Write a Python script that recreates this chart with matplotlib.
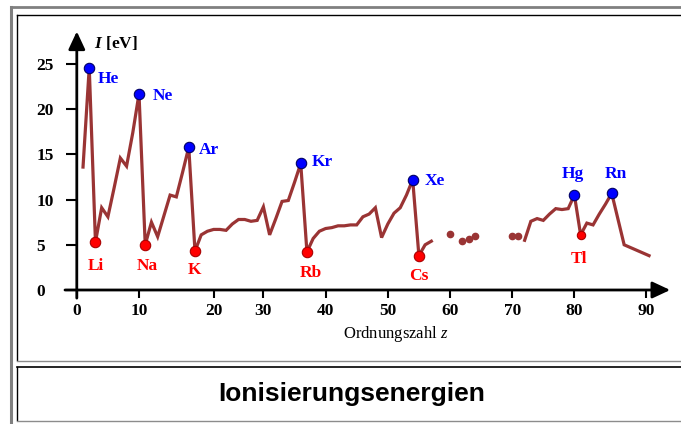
import matplotlib
matplotlib.use("Agg")
import matplotlib.pyplot as plt
from matplotlib.lines import Line2D

plt.rcParams["font.family"] = ["Liberation Serif", "DejaVu Serif"]
plt.rcParams["mathtext.fontset"] = "custom"
plt.rcParams["mathtext.rm"] = "Liberation Serif"
plt.rcParams["mathtext.it"] = "Liberation Serif:italic"
plt.rcParams["mathtext.bf"] = "Liberation Serif:bold"
plt.rcParams["mathtext.bfit"] = "Liberation Serif:italic:bold"

# first ionisation energies
z_main = list(range(1, 58))
ie_main = [13.6, 24.6, 5.3, 9.1, 8.1, 11.3, 14.6, 13.7, 17.4, 21.7,
           5.0, 7.5, 5.9, 8.2, 10.5, 10.3, 13.0, 15.8, 4.3, 6.1,
           6.5, 6.7, 6.7, 6.6, 7.3, 7.8, 7.8, 7.6, 7.7, 9.2,
           6.1, 7.9, 9.8, 9.9, 11.9, 14.0, 4.2, 5.7, 6.5, 6.8,
           6.9, 7.1, 7.1, 7.2, 7.2, 8.1, 8.4, 9.1, 5.8, 7.3,
           8.5, 9.1, 10.5, 12.2, 3.8, 5.0, 5.4]

z_dots = [60, 62, 63, 64, 70, 71]
ie_dots = [6.2, 5.4, 5.6, 6.0, 6.0, 6.0]

z_tail = [72, 73, 74, 75, 76, 77, 78, 79, 80, 81, 82, 83, 84, 85, 86, 88, 92]
ie_tail = [5.5, 7.6, 7.9, 7.7, 8.4, 9.0, 8.9, 9.0, 10.5, 6.1,
           7.4, 7.2, 8.4, 9.5, 10.7, 5.0, 3.8]

noble = ["He", "Ne", "Ar", "Kr", "Xe", "Hg", "Rn"]
noble_z = [2, 10, 18, 36, 54, 80, 86]
alkali = ["Li", "Na", "K", "Rb", "Cs", "Tl"]
alkali_z = [3, 11, 19, 37, 55, 81]

xtick_pos = [0, 10, 22, 30, 40, 50, 60, 70, 80, 91.5]
xtick_lab = ["0", "10", "20", "30", "40", "50", "60", "70", "80", "90"]
ytick_pos = [0, 5, 10, 15, 20, 25]

# label offsets in pixels (dx, dy, ha)
noble_off = {"He": (8, -11, "left"), "Ne": (14, -2, "left"), "Ar": (10, -3, "left"),
             "Kr": (11, 1, "left"), "Xe": (12, -1, "left"), "Hg": (-2, 21, "center"),
             "Rn": (4, 19, "center")}
alkali_off = {"Li": (0, -24), "Na": (2, -21), "K": (-1, -19), "Rb": (4, -21),
              "Cs": (0, -20), "Tl": (-2, -24)}

LINE = "#9a3434"
W, H = 681, 424


def lookup(z):
    for zs, vs in ((z_main, ie_main), (z_tail, ie_tail)):
        if z in zs:
            return vs[zs.index(z)]


def hline(fig, x0, x1, y, color, lw):
    fig.add_artist(Line2D([x0 / W, x1 / W], [1 - y / H, 1 - y / H],
                          transform=fig.transFigure, color=color, lw=lw))


def vline(fig, x, y0, y1, color, lw):
    fig.add_artist(Line2D([x / W, x / W], [1 - y0 / H, 1 - y1 / H],
                          transform=fig.transFigure, color=color, lw=lw))


def main():
    fig = plt.figure(figsize=(W / 100, H / 100), dpi=100)

    # frames
    vline(fig, 10.5, 7, H, "#808080", 2.2)
    hline(fig, 10.5, W, 7, "#808080", 2.0)
    hline(fig, 17, W, 14.5, "black", 1.0)
    vline(fig, 17, 14.5, 360, "black", 1.0)
    hline(fig, 17, W, 360.5, "#8c8c8c", 1.0)
    hline(fig, 17, W, 366.5, "black", 1.2)
    vline(fig, 17, 366.5, 420, "black", 1.0)
    hline(fig, 17, W, 420.5, "#8c8c8c", 1.0)

    x0, sx = 76.8, 6.22
    y0, sy = 290.0, 9.04
    xlim = (-3, 96)
    ylim = (-2, 29.5)
    left = x0 + xlim[0] * sx
    bottom = H - (y0 - ylim[0] * sy)
    ax = fig.add_axes([left / W, bottom / H,
                       (xlim[1] - xlim[0]) * sx / W, (ylim[1] - ylim[0]) * sy / H])
    ax.set_xlim(*xlim)
    ax.set_ylim(*ylim)
    ax.patch.set_alpha(0)

    for s in ax.spines.values():
        s.set_visible(False)
    ax.spines["left"].set_position(("data", 0))
    ax.spines["bottom"].set_position(("data", 0))

    ax.set_xticks(xtick_pos, labels=xtick_lab)
    ax.set_yticks(ytick_pos, labels=[str(v) for v in ytick_pos])
    ax.tick_params(axis="x", direction="out", length=6, width=1.5, pad=3.5,
                   labelsize=12.5)
    ax.tick_params(axis="y", direction="out", length=8, width=1.5, pad=21,
                   labelsize=12.5)
    for t in ax.get_xticklabels() + ax.get_yticklabels():
        t.set_fontweight("bold")
    for t in ax.get_yticklabels():
        t.set_horizontalalignment("left")

    arrow = dict(arrowstyle="-|>,head_length=0.9,head_width=0.42", color="black",
                 lw=2.0, shrinkA=0, shrinkB=0, mutation_scale=12)
    ax.annotate("", xy=(95.4, 0), xytext=(-1.9, 0), arrowprops=arrow)
    ax.annotate("", xy=(0, 28.6), xytext=(0, -0.9), arrowprops=arrow)

    ax.plot(z_main, ie_main, color=LINE, lw=2.3, solid_joinstyle="miter", zorder=3)
    ax.plot(z_tail, ie_tail, color=LINE, lw=2.3, solid_joinstyle="miter", zorder=3)
    ax.plot(z_dots, ie_dots, "o", color=LINE, ms=4.5, zorder=3)

    for name, z in zip(noble, noble_z):
        v = lookup(z)
        ax.plot(z, v, "o", ms=7.5, mfc="#0000ff", mec="#000066", mew=0.8, zorder=4)
        dx, dy, ha = noble_off[name]
        ax.annotate(name, (z, v), xytext=(dx, dy), textcoords="offset pixels",
                    ha=ha, va="center", color="#0000ff", fontsize=12.5,
                    fontweight="bold")

    for name, z in zip(alkali, alkali_z):
        v = lookup(z)
        ms = 6 if name == "Tl" else 7.5
        ax.plot(z, v, "o", ms=ms, mfc="#ff0000", mec="#aa0000", mew=0.8, zorder=4)
        dx, dy = alkali_off[name]
        ax.annotate(name, (z, v), xytext=(dx, dy), textcoords="offset pixels",
                    ha="center", va="center", color="#ff0000", fontsize=12.5,
                    fontweight="bold")

    fig.text(94 / W, 1 - 43 / H, r"$\mathbfit{I}$ [eV]", ha="left", va="center",
             fontsize=12.5, fontweight="bold")
    fig.text(396 / W, 1 - 334 / H, r"Ordnungszahl $z$", ha="center", va="center",
             fontsize=12)
    fig.text(352 / W, 1 - 394 / H, "Ionisierungsenergien", ha="center", va="center",
             fontsize=19, fontweight="bold", family=["Liberation Sans", "DejaVu Sans"])

    fig.savefig("out.png", dpi=100)


if __name__ == "__main__":
    main()
